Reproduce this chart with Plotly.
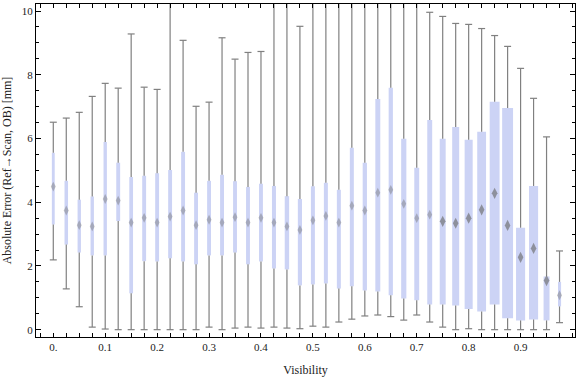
import plotly.graph_objects as go

visibility = [round(0.025 * i, 3) for i in range(40)]

whisker_max = [6.51, 6.64, 6.82, 7.32, 7.73, 7.58, 9.28, 7.61, 7.54, 10.24,
               9.08, 7.01, 7.14, 9.16, 8.49, 8.70, 8.73, 10.33, 10.33, 9.52,
               10.8, 10.24, 11.2, 10.6, 10.9, 10.33, 10.33, 10.30, 10.24, 9.96,
               9.83, 9.61, 9.58, 9.45, 9.23, 8.89, 8.20, 7.26, 6.05, 2.47]
q3 = [5.55, 4.67, 4.08, 4.18, 5.89, 5.24, 4.79, 4.83, 4.91, 5.01,
      5.58, 4.30, 4.67, 4.86, 4.66, 4.48, 4.58, 4.51, 4.19, 4.10,
      4.50, 4.61, 4.39, 5.71, 5.24, 7.24, 7.59, 5.99, 5.08, 6.58,
      5.99, 6.36, 5.96, 6.21, 7.15, 6.96, 3.20, 4.51, 1.67, 1.50]
median = [4.49, 3.74, 3.28, 3.24, 4.10, 4.05, 3.36, 3.51, 3.36, 3.55,
          3.74, 3.28, 3.45, 3.36, 3.53, 3.36, 3.51, 3.36, 3.24, 3.13,
          3.43, 3.57, 3.36, 3.89, 3.74, 4.30, 4.39, 3.95, 3.50, 3.61,
          3.40, 3.34, 3.50, 3.76, 4.28, 3.27, 2.27, 2.55, 1.54, 1.08]
q1 = [3.30, 2.67, 2.42, 2.33, 2.33, 3.41, 1.14, 2.15, 2.14, 2.24,
      2.14, 2.05, 2.33, 2.33, 2.42, 2.05, 2.14, 1.92, 1.89, 1.39,
      1.42, 1.45, 1.29, 1.36, 1.23, 1.20, 1.08, 0.98, 0.92, 0.79,
      0.79, 0.76, 0.65, 0.57, 0.79, 0.36, 0.29, 0.32, 0.29, 0.73]
whisker_min = [2.19, 1.28, 0.72, 0.08, 0.02, 0.00, 0.00, 0.00, 0.00, 0.00,
               0.00, 0.00, 0.08, 0.00, 0.05, 0.08, 0.05, 0.08, 0.05, 0.03,
               0.11, 0.08, 0.24, 0.33, 0.43, 0.46, 0.41, 0.30, 0.46, 0.24,
               0.08, 0.00, 0.03, 0.00, 0.00, 0.00, 0.00, 0.00, 0.00, 0.22]
box_width = [0.0055, 0.0068, 0.0065, 0.0065, 0.0065, 0.0075, 0.0072, 0.0075, 0.0075, 0.0075,
             0.0075, 0.0075, 0.0075, 0.0075, 0.0075, 0.0075, 0.0075, 0.0077, 0.0085, 0.0080,
             0.0077, 0.0077, 0.0077, 0.0077, 0.0082, 0.0095, 0.0082, 0.0100, 0.0095, 0.0095,
             0.0115, 0.0135, 0.0155, 0.0170, 0.0190, 0.0210, 0.0175, 0.0175, 0.0115, 0.0060]

x_tickvals = [0.0, 0.1, 0.2, 0.3, 0.4, 0.5, 0.6, 0.7, 0.8, 0.9]
x_ticktext = ["0.", "0.1", "0.2", "0.3", "0.4", "0.5", "0.6", "0.7", "0.8", "0.9"]
y_tickvals = [0, 2, 4, 6, 8, 10]

gray = "rgb(128,128,128)"
box_color = "rgb(204,211,245)"

# median marker look: narrow, faint streaks for thin boxes, crisper diamonds for wide ones
med_size = [7 if w < 0.011 else 8 for w in box_width]
med_color = ["rgba(110,110,110,0.6)" if w < 0.011 else "rgba(105,105,105,0.9)" for w in box_width]

fig = go.Figure()

fig.add_trace(go.Bar(
    x=visibility,
    y=[a - b for a, b in zip(q3, q1)],
    base=q1,
    width=box_width,
    marker=dict(color=box_color, line=dict(width=0)),
    hoverinfo="skip",
))

wx, wy = [], []
for xv, lo, a, b, hi in zip(visibility, whisker_min, q1, q3, whisker_max):
    wx += [xv, xv, None, xv, xv, None]
    wy += [b, hi, None, lo, a, None]
fig.add_trace(go.Scatter(
    x=wx, y=wy, mode="lines",
    line=dict(color=gray, width=1.2),
    hoverinfo="skip",
))

fig.add_trace(go.Scatter(
    x=visibility + visibility,
    y=whisker_max + whisker_min,
    mode="markers",
    marker=dict(symbol="line-ew", size=5, line=dict(color=gray, width=1.2)),
    hoverinfo="skip",
))

fig.add_trace(go.Scatter(
    x=visibility, y=median, mode="markers",
    marker=dict(symbol="diamond-tall", size=med_size, color=med_color,
                line=dict(width=0)),
    hoverinfo="skip",
))

axis_font = dict(family="Liberation Serif", size=11, color="#222222")
title_font = dict(family="Liberation Serif", size=12, color="#222222")

fig.update_layout(
    width=576, height=377,
    margin=dict(l=36, r=1, t=4, b=40, autoexpand=False),
    paper_bgcolor="white", plot_bgcolor="white",
    showlegend=False,
    font=dict(family="Liberation Serif", size=11, color="#222222"),
    xaxis=dict(
        range=[-0.0333, 1.0048],
        tickvals=x_tickvals, ticktext=x_ticktext,
        ticks="inside", ticklen=4, tickcolor="black",
        minor=dict(dtick=0.025, tick0=0, ticks="inside", ticklen=4, tickcolor="black"),
        showline=True, mirror="ticks", linecolor="black", linewidth=1,
        showgrid=False, zeroline=False, automargin=False,
        tickfont=axis_font,
        title=dict(text="Visibility", font=title_font),
    ),
    yaxis=dict(
        range=[-0.23, 10.22],
        tickvals=y_tickvals,
        ticks="inside", ticklen=5, tickcolor="black",
        minor=dict(dtick=0.5, tick0=0, ticks="inside", ticklen=3, tickcolor="black"),
        showline=True, mirror="ticks", linecolor="black", linewidth=1,
        showgrid=False, zeroline=False, automargin=False,
        tickfont=axis_font,
        title=dict(text="Absolute Error (Ref→Scan, OB) [mm]", font=title_font),
    ),
)

fig.write_html("out.html", config={"displayModeBar": False},
               post_script="document.body.style.margin='0';")
